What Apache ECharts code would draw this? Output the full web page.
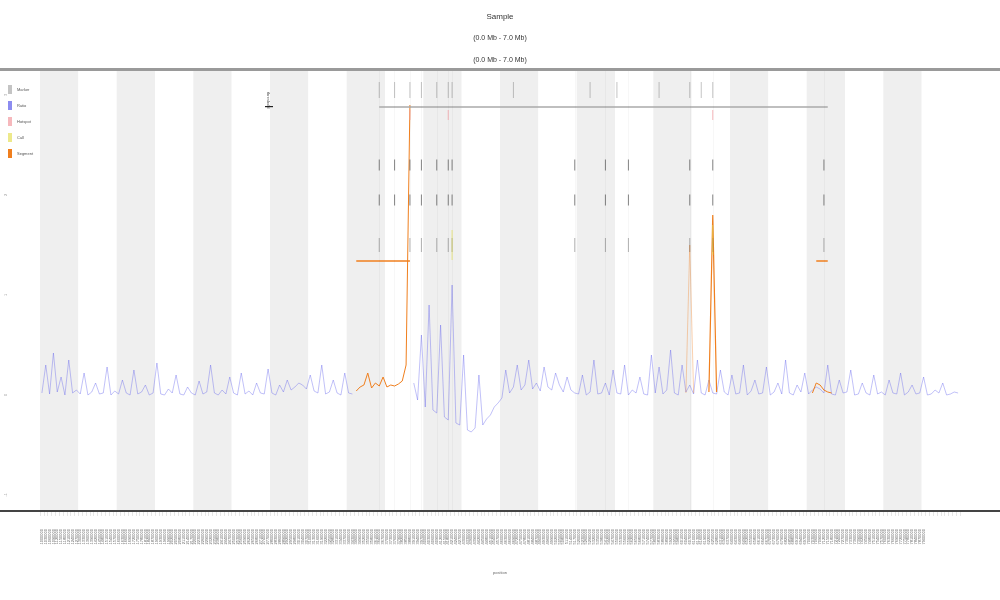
<!DOCTYPE html>
<html><head><meta charset="utf-8">
<script src="https://cdn.jsdelivr.net/npm/echarts@6/dist/echarts.min.js"></script>
<style>html,body{margin:0;padding:0;background:#fff}#c{width:1000px;height:600px}</style>
</head><body><div id="c"></div>
<script>
// ---- data ----
const binCount = 240;
const binLabels = [];
for (let i = 0; i < binCount; i++) binLabels.push(i < 231 ? String(1000000 + i * 30000) : '');

const ratioValues = [
  0.02,0.3,0.01,0.42,0.03,0.18,0.0,0.35,0.02,0.05,0.01,0.22,0.0,0.03,0.12,0.01,0.02,0.28,0.0,0.04,
  0.01,0.15,0.02,0.0,0.25,0.01,0.03,0.1,0.0,0.02,0.32,0.01,0.0,0.06,0.02,0.2,0.01,0.0,0.08,0.02,
  0.0,0.14,0.01,0.03,0.3,0.02,0.0,0.05,0.01,0.18,0.02,0.0,0.22,0.01,0.04,0.0,0.12,0.02,0.01,0.26,
  0.02,0.0,0.1,0.03,0.15,0.05,0.08,0.12,0.1,0.06,0.2,0.04,0.02,0.3,0.01,0.03,0.15,0.02,0.0,0.22,
  0.02,0.01,null,null,null,null,null,null,null,null,null,null,null,null,null,null,null,0.12,-0.05,0.6,
  -0.12,0.9,-0.15,-0.18,0.7,-0.22,-0.25,1.1,-0.28,-0.3,0.4,-0.35,-0.37,-0.33,0.2,-0.3,-0.24,-0.2,-0.12,-0.08,
  -0.03,0.25,0.02,0.08,0.3,0.05,0.1,0.35,0.06,0.12,0.04,0.28,0.08,0.05,0.22,0.1,0.03,0.18,0.05,0.02,
  0.01,0.2,0.0,0.03,0.35,0.01,0.02,0.12,0.0,0.25,0.02,0.01,0.3,0.0,0.05,0.02,0.18,0.01,0.0,0.4,
  0.02,0.28,0.01,0.05,0.45,0.02,0.0,0.3,0.03,0.1,0.01,0.35,0.02,0.0,0.15,0.02,0.01,0.25,0.03,0.0,
  0.2,0.01,0.02,0.3,0.0,0.04,0.15,0.01,0.02,0.28,0.0,0.03,0.12,0.01,0.35,0.02,0.0,0.1,0.03,0.22,
  0.01,0.05,0.08,0.06,0.02,0.3,0.01,0.0,0.15,0.02,0.03,0.25,0.0,0.01,0.12,0.02,0.0,0.2,0.01,0.03,
  0.0,0.15,0.02,0.01,0.22,0.0,0.03,0.1,0.01,0.02,0.18,0.0,0.01,0.05,0.02,0.12,0.0,0.01,0.03,0.02
];

const segmentA = [[82,0.04],[83,0.08],[84,0.1],[85,0.22],[86,0.07],[87,0.12],[88,0.09],[89,0.18],[90,0.08],[91,0.1],[92,0.09],[93,0.11],[94,0.14],[95,0.3],[96,2.9]];
const segmentB = [[168,0.02],[169,1.5],[170,0.02]];
const segmentC = [[174,0.03],[175,1.8],[176,0.03]];
const segmentD = [[201,0.02],[202,0.12],[203,0.1],[204,0.05],[205,0.03],[206,0.02]];
const segmentMeanA = [[82,1.34],[96,1.34]];
const segmentMeanB = [[202,1.34],[205,1.34]];
const thresholdLine = [[88,2.88],[205,2.88]];

const markTop = [[88,3.05],[92,3.05],[96,3.05],[99,3.05],[103,3.05],[106,3.05],[107,3.05],[123,3.05],[143,3.05],[150,3.05],[161,3.05],[169,3.05],[172,3.05],[175,3.05]];
const markMid = [[88,2.3],[92,2.3],[96,2.3],[99,2.3],[103,2.3],[106,2.3],[107,2.3],[139,2.3],[147,2.3],[153,2.3],[169,2.3],[175,2.3],[204,2.3]];
const markLow = [[88,1.95],[92,1.95],[96,1.95],[99,1.95],[103,1.95],[106,1.95],[107,1.95],[139,1.95],[147,1.95],[153,1.95],[169,1.95],[175,1.95],[204,1.95]];
const markBase = [[88,1.5],[96,1.5],[99,1.5],[103,1.5],[106,1.5],[107,1.5],[139,1.5],[147,1.5],[153,1.5],[169,1.5],[175,1.5],[204,1.5]];
const markRed = [[96,2.8],[106,2.8],[175,2.8]];
const markYellow = [[175,1.55],[107,1.5]];
const yTicks = [-1,0,1,2,3];

// ---- chart ----
const chart = echarts.init(document.getElementById('c'), null, {renderer:'canvas'});
const markerSeries = (name, data, color, h, op) => ({
  name, type:'scatter', data, symbol:'rect', symbolSize:[1,h],
  itemStyle:{color, opacity:op}, label:{show:false}, z:5
});
chart.setOption({
  animation:false,
  title:{left:'center', top:8, text:'Sample', textStyle:{fontSize:8, color:'#333', fontWeight:'normal'},
    subtext:'(0.0 Mb - 7.0 Mb)\n(0.0 Mb - 7.0 Mb)', subtextStyle:{fontSize:7, color:'#333', lineHeight:22}, itemGap:6},
  legend:{orient:'vertical', left:3, top:80, icon:'rect', itemWidth:4, itemHeight:9, itemGap:7, textStyle:{fontSize:4, color:'#555'},
    data:['Marker','Ratio','Hotspot','Call','Segment']},
  grid:{left:40, right:40, top:70, bottom:89, outerBoundsMode:'none', containLabel:false},
  xAxis:{type:'category', data:binLabels, boundaryGap:true,
    axisLine:{show:true, onZero:false, lineStyle:{color:'#333', width:2}},
    axisTick:{show:true, interval:0, length:5, lineStyle:{color:'#ccc', width:0.5}},
    axisLabel:{interval:0, rotate:90, fontSize:4, color:'#666', margin:18},
    splitArea:{show:true, interval:9, areaStyle:{color:['#efefef','#ffffff']}},
    name:'position', nameLocation:'middle', nameGap:60, nameTextStyle:{fontSize:4, color:'#666'}},
  yAxis:{type:'value', min:-1.16, max:3.25, splitLine:{show:false}, axisLine:{show:false}, axisTick:{show:false},
    axisLabel:{customValues:yTicks, fontSize:4, color:'#999', rotate:90, margin:32},
    name:'log2 ratio', nameLocation:'middle', nameGap:34, nameTextStyle:{fontSize:4, color:'#999'}},
  graphic:[
    {type:'rect', shape:{x:0, y:68, width:1000, height:3}, style:{fill:'#9a9a9a'}, z:10},
    {type:'rect', shape:{x:0, y:510, width:1000, height:2}, style:{fill:'#444'}, z:10},
    {type:'rect', shape:{x:956, y:71, width:6, height:439}, style:{fill:'#ffffff'}, z:1},
    {type:'text', left:266, top:92, style:{text:'threshold', fontSize:4, fill:'#555'}, rotation:-Math.PI/2, z:10},
    {type:'rect', shape:{x:265, y:106, width:8, height:1.2}, style:{fill:'#222'}, z:10}
  ],
  series:[
    {name:'Ratio', type:'line', data:ratioValues, symbol:'none', connectNulls:false,
      lineStyle:{color:'#5c5ced', width:0.7, opacity:0.55}, itemStyle:{color:'#8c8cf0'}, z:2},
    {name:'Segment', type:'line', data:segmentA, symbol:'none', lineStyle:{color:'#f07f1e', width:1}, itemStyle:{color:'#f07f1e'}, z:3},
    {name:'Segment', type:'line', data:segmentB, symbol:'none', lineStyle:{color:'#f07f1e', width:0.6, opacity:0.6}, z:3},
    {name:'Segment', type:'line', data:segmentC, symbol:'none', lineStyle:{color:'#f07f1e', width:1.2}, z:3},
    {name:'Segment', type:'line', data:segmentD, symbol:'none', lineStyle:{color:'#f07f1e', width:1}, z:3},
    {name:'Segment', type:'line', data:segmentMeanA, symbol:'none', lineStyle:{color:'#f07f1e', width:1.5}, z:3},
    {name:'Segment', type:'line', data:segmentMeanB, symbol:'none', lineStyle:{color:'#f07f1e', width:1.5}, z:3},
    {name:'threshold', type:'line', data:thresholdLine, symbol:'none', lineStyle:{color:'#aaaaaa', width:1.5}, z:3},
    Object.assign(markerSeries('Marker', markTop, '#555', 16, 0.35), {
      markLine:{silent:true, symbol:'none', label:{show:false},
        lineStyle:{color:'rgba(0,0,0,0.06)', width:0.6, type:'solid'},
        data:markMid.map(d => ({xAxis:d[0]}))}}),
    markerSeries('Marker', markMid, '#222', 11, 0.55),
    markerSeries('Marker', markLow, '#222', 11, 0.55),
    markerSeries('Marker', markBase, '#444', 14, 0.4),
    markerSeries('Hotspot', markRed, '#f29aa0', 10, 0.7),
    markerSeries('Call', markYellow, '#e6e05a', 30, 0.7)
  ]
});
</script></body></html>
